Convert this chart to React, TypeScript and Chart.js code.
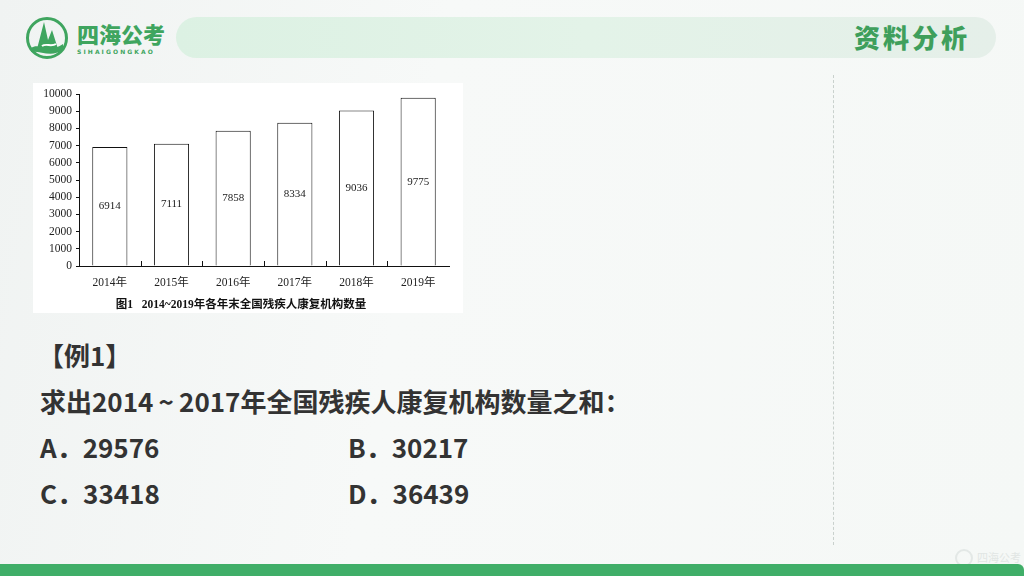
import React, { useEffect, useRef } from "react";
import { Chart, registerables } from "chart.js";

Chart.register(...registerables);

const categories = ["2014年", "2015年", "2016年", "2017年", "2018年", "2019年"];
const values = [6914, 7111, 7858, 8334, 9036, 9775];
const yMin = 0;
const yMax = 10000;
const yStep = 1000;
const caption = "图1   2014~2019年各年末全国残疾人康复机构数量";

const exampleTitle = "【例1】";
const question = "求出2014\u2009~\u20092017年全国残疾人康复机构数量之和：";
const optionLetters = ["A", "B", "C", "D"];
const optionValues = ["29576", "30217", "33418", "36439"];

const CHART_FONT = "'Liberation Serif', 'DejaVu Serif', 'Noto Sans CJK SC', serif";
const CJK = "'Noto Sans CJK SC', 'Noto Sans', sans-serif";

const barLabelPlugin = {
  id: "barLabels",
  afterDatasetsDraw(chart: any) {
    const ctx = chart.ctx;
    const meta = chart.getDatasetMeta(0);
    ctx.save();
    ctx.font = `11px ${CHART_FONT}`;
    ctx.fillStyle = "#1a1a1a";
    ctx.textAlign = "center";
    ctx.textBaseline = "middle";
    meta.data.forEach((bar: any, i: number) => {
      const y = (bar.y + bar.base) / 2;
      ctx.fillText(String(values[i]), bar.x, y);
    });
    ctx.restore();
  },
};

const innerTicksPlugin = {
  id: "innerTicks",
  afterDraw(chart: any) {
    const ctx = chart.ctx;
    const xs = chart.scales.x;
    const bottom = chart.chartArea.bottom;
    ctx.save();
    ctx.strokeStyle = "#111";
    ctx.lineWidth = 1;
    ctx.beginPath();
    for (let i = 1; i < categories.length; i++) {
      const px = Math.round((xs.getPixelForValue(i - 1) + xs.getPixelForValue(i)) / 2) + 0.5;
      ctx.moveTo(px, bottom - 5);
      ctx.lineTo(px, bottom);
    }
    ctx.stroke();
    ctx.restore();
  },
};

function BarChart() {
  const ref = useRef<HTMLCanvasElement>(null);
  useEffect(() => {
    if (!ref.current) return;
    const chart = new Chart(ref.current, {
      type: "bar",
      data: {
        labels: categories,
        datasets: [
          {
            data: values,
            backgroundColor: "#ffffff",
            borderColor: "#111111",
            borderWidth: 1,
            categoryPercentage: 1,
            barPercentage: 0.57,
          },
        ],
      },
      options: {
        animation: false,
        responsive: false,
        maintainAspectRatio: false,
        layout: { padding: { left: 0, right: 14, top: 11, bottom: 0 } },
        plugins: {
          legend: { display: false },
          tooltip: { enabled: false },
          title: {
            display: true,
            position: "bottom",
            text: caption,
            color: "#111",
            font: { family: CHART_FONT, size: 11.5, weight: "bold" },
            padding: { top: 0, bottom: 1 },
          },
        },
        scales: {
          x: {
            grid: { display: false },
            border: { display: true, color: "#111", width: 1 },
            ticks: {
              color: "#222",
              font: { family: CHART_FONT, size: 11.5 },
              padding: 2,
              maxRotation: 0,
            },
            afterFit(scale: any) {
              scale.height = 32.2;
            },
          },
          y: {
            min: yMin,
            max: yMax,
            grid: {
              display: true,
              drawOnChartArea: false,
              drawTicks: true,
              tickLength: 3,
              color: "#111",
            },
            border: { display: true, color: "#111", width: 1 },
            ticks: {
              stepSize: yStep,
              color: "#222",
              font: { family: CHART_FONT, size: 11.5 },
              padding: 4,
              callback: (v: any) => String(v),
            },
            afterFit(scale: any) {
              scale.width = 46;
            },
          },
        },
      } as any,
      plugins: [barLabelPlugin, innerTicksPlugin],
    });
    return () => chart.destroy();
  }, []);
  return <canvas ref={ref} width={430} height={230} style={{ display: "block" }} />;
}

function Logo() {
  return (
    <svg width="44" height="44" viewBox="0 0 44 44" style={{ position: "absolute", left: 25, top: 16 }}>
      <circle cx="22" cy="22" r="19.5" fill="none" stroke="#3fa55f" strokeWidth="3" />
      <path d="M12 33 L19 6 L23 24 L27 14 L33 33 Z" fill="#3fa55f" />
      <path d="M6 32 C14 26 24 38 38 28 L38 34 C26 42 14 34 6 36 Z" fill="#3fa55f" />
      <path d="M17 30 C21 27 26 31 31 28" stroke="#ffffff" strokeWidth="2" fill="none" />
    </svg>
  );
}

export default function App() {
  const textStyle: React.CSSProperties = {
    position: "absolute",
    fontFamily: CJK,
    fontWeight: 700,
    fontSize: 26,
    color: "#333333",
    whiteSpace: "nowrap",
    lineHeight: "30px",
  };
  return (
    <div
      style={{
        position: "fixed",
        left: 0,
        top: 0,
        width: 1024,
        height: 576,
        overflow: "hidden",
        background: "linear-gradient(100deg, #f0f3f2 0%, #f7f9f8 40%, #f5f8f6 100%)",
      }}
    >
      <Logo />
      <div
        style={{
          position: "absolute",
          left: 77,
          top: 20,
          fontFamily: CJK,
          fontWeight: 900,
          fontSize: 22,
          color: "#3fa55f",
          letterSpacing: 0,
          lineHeight: "26px",
        }}
      >
        四海公考
      </div>
      <div
        style={{
          position: "absolute",
          left: 77,
          top: 48,
          width: 90,
          fontFamily: "'DejaVu Sans', sans-serif",
          fontWeight: 700,
          fontSize: 6,
          color: "#3fa55f",
          letterSpacing: 2.1,
          lineHeight: "7px",
        }}
      >
        SIHAIGONGKAO
      </div>
      <div
        style={{
          position: "absolute",
          left: 176,
          top: 17,
          width: 820,
          height: 41,
          borderRadius: 21,
          background: "linear-gradient(90deg, #dcf1e3 0%, #e3f3e8 50%, #e5efe9 100%)",
        }}
      />
      <div
        style={{
          position: "absolute",
          left: 854,
          top: 20,
          fontFamily: CJK,
          fontWeight: 900,
          fontSize: 26,
          color: "#3f9f5c",
          lineHeight: "34px",
          letterSpacing: 3,
        }}
      >
        资料分析
      </div>

      <div
        style={{
          position: "absolute",
          left: 33,
          top: 83,
          width: 430,
          height: 230,
          background: "#ffffff",
        }}
      >
        <BarChart />
      </div>

      <div
        style={{
          position: "absolute",
          left: 833,
          top: 75,
          height: 470,
          borderLeft: "1px dashed #c9d1cd",
        }}
      />

      <div style={{ ...textStyle, left: 38, top: 340 }}>{exampleTitle}</div>
      <div style={{ ...textStyle, left: 40, top: 386 }}>{question}</div>
      <div style={{ ...textStyle, left: 40, top: 432 }}>{`${optionLetters[0]}．${optionValues[0]}`}</div>
      <div style={{ ...textStyle, left: 348, top: 432 }}>{`${optionLetters[1]}．${optionValues[1]}`}</div>
      <div style={{ ...textStyle, left: 40, top: 478 }}>{`${optionLetters[2]}．${optionValues[2]}`}</div>
      <div style={{ ...textStyle, left: 348, top: 478 }}>{`${optionLetters[3]}．${optionValues[3]}`}</div>

      <div
        style={{
          position: "absolute",
          left: 955,
          top: 549,
          width: 18,
          height: 18,
          borderRadius: 9,
          border: "2px solid #e3e8e6",
          boxSizing: "border-box",
        }}
      />
      <div
        style={{
          position: "absolute",
          left: 977,
          top: 550,
          fontFamily: CJK,
          fontSize: 11,
          color: "#e1e6e4",
          lineHeight: "14px",
        }}
      >
        四海公考
      </div>

      <div
        style={{
          position: "absolute",
          left: 0,
          top: 564,
          width: 1024,
          height: 12,
          background: "#40ae68",
          borderTopRightRadius: 6,
        }}
      />
    </div>
  );
}
